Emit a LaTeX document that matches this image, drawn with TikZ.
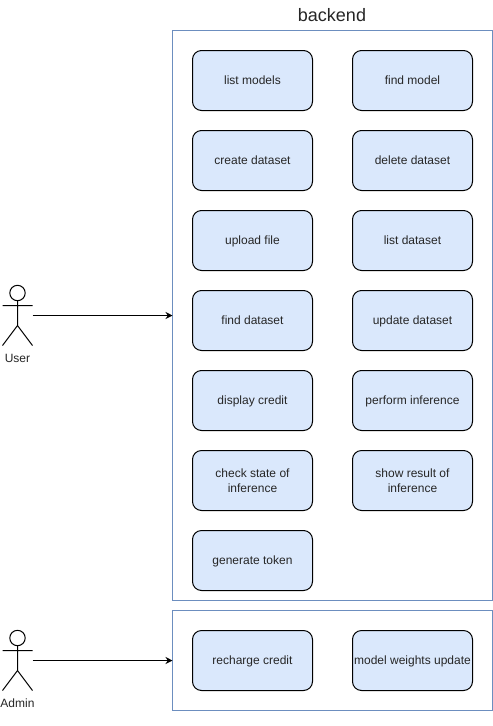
\documentclass[tikz,border=0pt]{standalone}
\usepackage{fontspec}
\setmainfont{Liberation Sans}
\usetikzlibrary{arrows.meta}
\definecolor{boxfill}{HTML}{DAE8FC}
\definecolor{boxline}{HTML}{6C8EBF}
\definecolor{txt}{HTML}{262626}
\newcommand{\tstrut}{\rule[-2.63pt]{0pt}{11.25pt}}
\tikzset{
  x=0.75pt,y=-0.75pt,
  every node/.style={inner sep=0pt,outer sep=0pt,text=txt},
  uc/.style={draw=black,fill=boxfill,rounded corners=6.75pt,minimum width=90pt,minimum height=45pt,align=center,font=\fontsize{9}{11.25}\selectfont,line width=0.75pt,execute at begin node=\tstrut},
  container/.style={draw=boxline,minimum width=240pt,line width=0.75pt},
  actorbox/.style={minimum width=22.5pt,minimum height=45pt},
  stick/.style={draw=black,line width=0.75pt},
  lbl/.style={font=\fontsize{9}{11.25}\selectfont,execute at begin node=\tstrut},
  link/.style={draw=black,line width=0.75pt,-{Stealth[length=5.25pt,width=5.25pt]}}
}
\begin{document}
\begin{tikzpicture}
\useasboundingbox (0,0) rectangle (493,726);
\fill[white] (0,0) rectangle (493,726);
\node[container,minimum height=427.5pt] (backend) at (332.5,315.5) {};
\node[container,minimum height=75pt] (admingroup) at (332.5,660.5) {};
\node[font=\fontsize{13.5}{16}\selectfont] (title) at (332,15) {backend};
\node[uc] (a1) at (252.5,80.5) {list models};
\node[uc] (b1) at (412.5,80.5) {find model};
\node[uc] (a2) at (252.5,160.5) {create dataset};
\node[uc] (b2) at (412.5,160.5) {delete dataset};
\node[uc] (a3) at (252.5,240.5) {upload file};
\node[uc] (b3) at (412.5,240.5) {list dataset};
\node[uc] (a4) at (252.5,320.5) {find dataset};
\node[uc] (b4) at (412.5,320.5) {update dataset};
\node[uc] (a5) at (252.5,400.5) {display credit};
\node[uc] (b5) at (412.5,400.5) {perform inference};
\node[uc] (a6) at (252.5,480.5) {\rule{0pt}{9.6pt}check state of\\\tstrut inference};
\node[uc] (b6) at (412.5,480.5) {\rule{0pt}{9.6pt}show result of\\\tstrut inference};
\node[uc] (a7) at (252.5,560.5) {generate token};
\node[uc] (r1) at (252.5,660.5) {recharge credit};
\node[uc] (r2) at (412.5,660.5) {model weights update};
% actors
\node[actorbox] (user) at (17.5,315.5) {};
\node[lbl] (userlabel) at (17.5,358.5) {User};
\draw[stick] (17.5,293) circle[radius=7.7];
\draw[stick] (17.5,300.7) -- (17.5,325.5) (2.5,305.5) -- (32.5,305.5) (2.5,345.5) -- (17.5,325.5) -- (32.5,345.5);
\node[actorbox] (admin) at (17.5,660.5) {};
\node[lbl] (adminlabel) at (17.5,703.5) {Admin};
\draw[stick] (17.5,638) circle[radius=7.7];
\draw[stick] (17.5,645.7) -- (17.5,670.5) (2.5,650.5) -- (32.5,650.5) (2.5,690.5) -- (17.5,670.5) -- (32.5,690.5);
\draw[link] (user.east) -- (backend.west);
\draw[link] (admin.east) -- (admingroup.west);
\end{tikzpicture}
\end{document}
